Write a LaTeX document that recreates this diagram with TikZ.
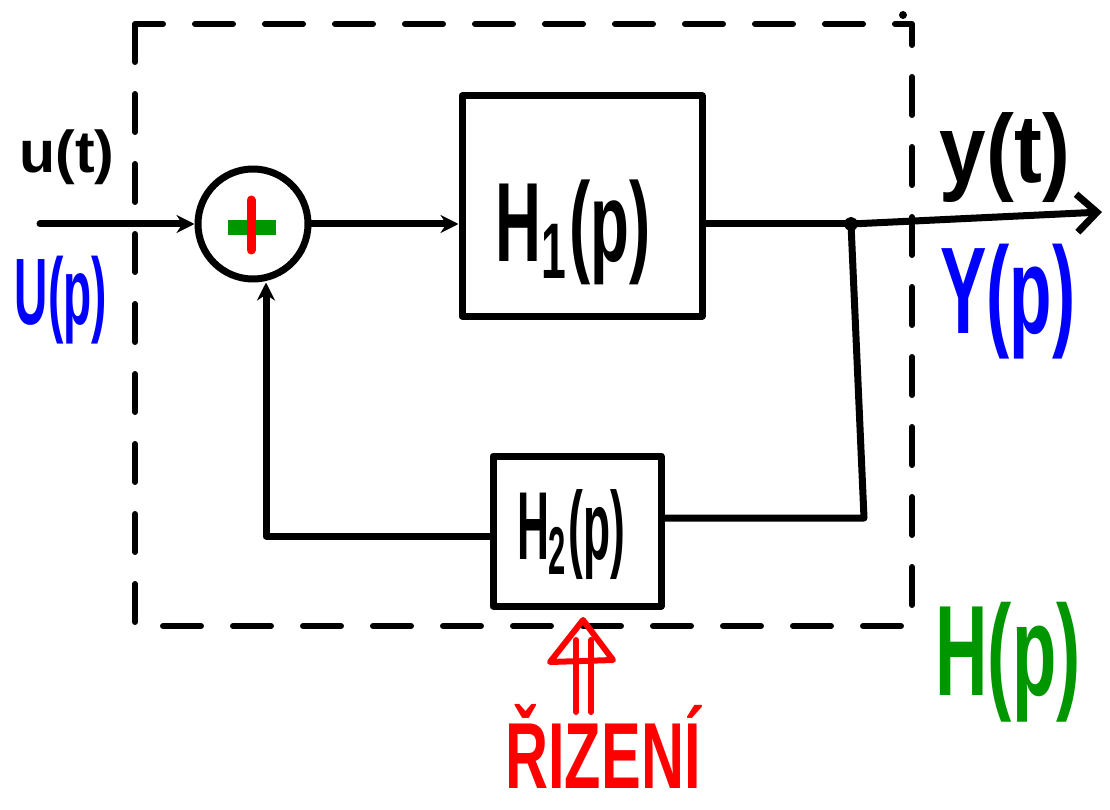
\documentclass[tikz,border=0pt]{standalone}
\usepackage{fontspec}
\setmainfont{Liberation Sans}
\usetikzlibrary{arrows.meta}
\newcommand\handtext[3]{\resizebox*{#1}{#2}{#3}}
\definecolor{hblue}{RGB}{0,0,255}
\definecolor{hgreen}{RGB}{0,150,0}
\definecolor{hred}{RGB}{255,0,0}
\begin{document}
\begin{tikzpicture}[x=1pt,y=-1pt,line cap=round,line join=round,
  ink/.style={line width=7pt,black},
  blockbox/.style={draw,line width=7pt,inner sep=0pt},
  lbl/.style={inner sep=0pt,anchor=center,font=\bfseries},
  dashbox/.style={line width=6pt,dash pattern=on 38pt off 32pt},
  tip/.style={-{Stealth[length=18pt,width=18pt]}},
  outtip/.style={-{Straight Barb[length=20pt,width=38pt,line width=7pt]}}]
\useasboundingbox (0,0) rectangle (1110,810);
\fill[white] (0,0) rectangle (1110,810);
% dashed system boundary
\draw[dashbox] (135,24) rectangle (912,626);
\fill (903,15) circle (4);
% blocks
\node[draw,circle,line width=7pt,minimum size=110pt,inner sep=0pt] (s) at (253,224) {};
\node[blockbox,minimum width=240pt,minimum height=220pt] (h1) at (582,206) {};
\node[blockbox,minimum width=168pt,minimum height=150pt] (h2) at (577,531) {};
% plus sign inside sum
\draw[line width=15pt,hgreen,line cap=butt] (228,228) -- (276,228);
\draw[line width=9pt,hred] (251,200) -- (251,250);
% coordinates
\coordinate (uin) at (40,224);
\coordinate (j) at (851,224);
\coordinate (yout) at (1102,212);
\coordinate (fb1) at (864,518);
\coordinate (fb2) at (266,536);
% connectors
\draw[ink,tip] (uin) -- (s.west);
\draw[ink,tip] (s.east) -- (s.east -| h1.west);
\draw[ink] (h1.east |- j) -- (j);
\draw[ink,outtip] (j) -- (yout);
\draw[ink] (j) -- (fb1) -- (h2.east |- fb1);
\draw[ink,tip] (h2.west |- fb2) -- (fb2) -- (fb2 |- s.south);
\draw[line width=4pt] (j) circle (5);
% control input (double arrow)
\draw[line width=6pt,hred] (576,712) -- (576,640) (591,712) -- (591,640);
\draw[line width=6pt,hred] (550,662) -- (583,620) -- (613,660) -- cycle;
% labels
\node[lbl] (lu) at (67,157) {\handtext{95pt}{55pt}{u(t)}};
\node[lbl,text=hblue] (lU) at (61,300) {\handtext{92pt}{88pt}{U(p)}};
\node[lbl] (lh1) at (573,232) {\handtext{155pt}{105pt}{H\textsubscript{1}(p)}};
\node[lbl] (lh2) at (571,535) {\handtext{108pt}{90pt}{H\textsubscript{2}(p)}};
\node[lbl] (ly) at (1005,158) {\handtext{130pt}{90pt}{y(t)}};
\node[lbl,text=hblue] (lY) at (1008,302) {\handtext{135pt}{115pt}{Y(p)}};
\node[lbl,text=hgreen] (lH) at (1008,662) {\handtext{145pt}{120pt}{H(p)}};
\node[lbl,text=hred] (lr) at (603,746) {\handtext{195pt}{84pt}{ŘIZENÍ}};
\end{tikzpicture}
\end{document}
